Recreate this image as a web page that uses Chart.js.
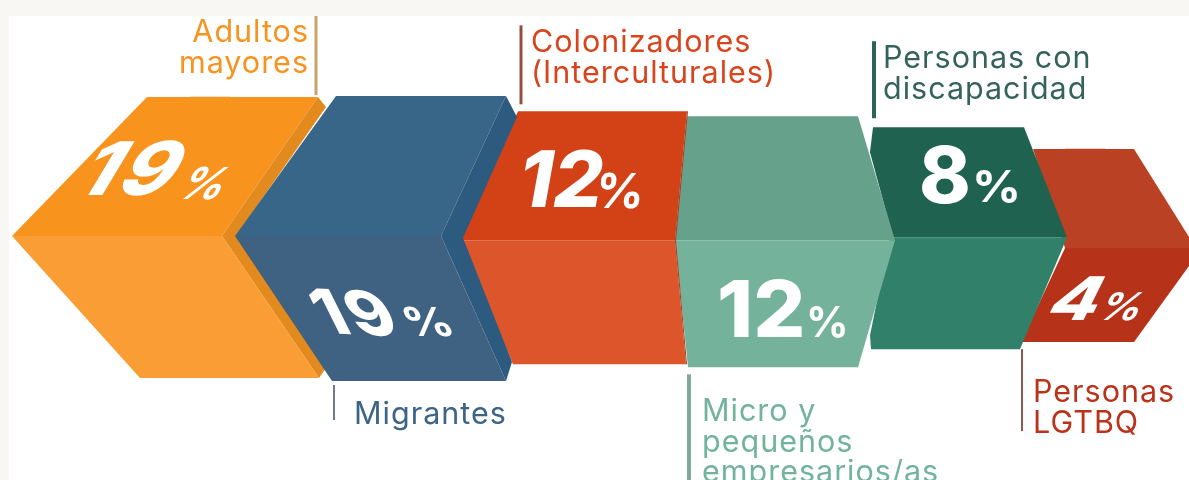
<!DOCTYPE html>
<html lang="es"><head><meta charset="utf-8">
<script src="https://cdn.jsdelivr.net/npm/chart.js@4"></script>
<style>
html,body{margin:0;padding:0;background:#f9f7f3;overflow:hidden;width:1189px;height:480px}
#panel{position:absolute;left:9px;top:16px;width:1180px;height:464px;background:#fff}
#c{position:absolute;left:0;top:0;filter:blur(.5px)}
</style></head><body><div id="panel"></div><canvas id="c" width="1189" height="480"></canvas>
<script>
const categories = [["Adultos","mayores"],["Migrantes"],["Colonizadores","(Interculturales)"],["Micro y","pequeños","empresarios/as"],["Personas con","discapacidad"],["Personas","LGTBQ"]];
const values = [19,19,12,12,8,4];
const textColors = ["#f7931e","#3b6487","#d9441c","#72b39b","#35635c","#bb321a"];
const topColors = ["#f8931d","#386689","#d34217","#66a18b","#1f6250","#bb4125"];

// Block drawing, offsets from each bar's top centre
const drawOrder = [5,4,3,2,0,1];
const originShift = [-111,-88,-65,-42,-19,4];
const shapes = [
 {faces:[
  ["#f8931d",[[-87,139],[48,0],[219,0],[123,139]]],
  ["#e28a1d",[[219,0],[227,10],[137,139],[227,271],[220,281],[123,139]]],
  ["#f99d34",[[-87,139],[123,139],[220,281],[41,281]]]]},
 {faces:[
  ["#386689",[[-62,139],[39,-1],[209,-1],[144,139]]],
  ["#2d5b80",[[209,-1],[220,20],[166,141],[215,265],[209,284],[144,139]]],
  ["#3f6283",[[-62,139],[144,139],[209,284],[35,284]]]]},
 {faces:[
  ["#d34217",[[23,-10],[192,-10],[180,119],[-35,119]]],
  ["#dc552b",[[-35,119],[180,119],[191,243],[18,243]]],
  ["#a5411f",[[192,-10],[193,-10],[181,119],[192,243],[191,243],[180,119]]]]},
 {faces:[
  ["#66a18b",[[-6,-5],[165,-5],[202,119],[-18,119]]],
  ["#74b29b",[[-18,119],[202,119],[165,246],[-5,246]]]]},
 {faces:[
  ["#1f6250",[[-18,-8],[133,-8],[176,102],[2,102],[-21,17]]],
  ["#30806a",[[-1,102],[176,102],[129,214],[-20,214],[-21,200]]]]},
 {faces:[
  ["#bb4125",[[-56,0],[45,0],[107,99],[-24,99]]],
  ["#b6331a",[[-24,99],[113,99],[45,193],[-68,193]]]]}
];
const numberStyles = [
 {x:-28,y:98,size:74,w:1.1,ls:4,c:-.6,b:0,px:75,py:102,ps:44,pw:1,pc:-.6,pb:0},
 {x:28,y:236,size:62,w:1.1,ls:3,c:.5,b:.05,px:112,py:239,ps:40,pw:1.2,pc:.4,pb:0},
 {x:20,y:86,size:78,w:1,ls:0,c:-.18,b:0,px:99,py:87,ps:48,pw:1,pc:-.1,pb:0},
 {x:24,y:216,size:78,w:1.05,ls:0,c:0,b:0,px:113,py:216,ps:42,pw:1,pc:0,pb:0},
 {x:28,y:68,size:78,w:1,ls:0,c:0,b:0,px:81,py:67,ps:44,pw:1.1,pc:0,pb:0},
 {x:-46,y:171,size:60,w:1.2,ls:0,c:-.5,b:0,px:6,py:171,ps:38,pw:1.1,pc:-.5,pb:0}
];
const notes = [
 {x:210,y:-55,align:"right",rule:[217,-81,-2,3,"#c9a36a"]},
 {x:57,y:327,align:"left",rule:[37,288,323,2,"#6e7b86"]},
 {x:36,y:-69,align:"left",rule:[26,-96,-17,3,"#91503e"]},
 {x:9,y:300,align:"left",rule:[-4,253,359,4,"#7faa99"]},
 {x:-8,y:-67,align:"left",rule:[-17,-94,-17,4,"#2e6358"]},
 {x:-56,y:253,align:"left",rule:[-67,200,282,2,"#8c5a50"]}
];
const TEXT_FONT = '400 30.5px Inter, "Open Sans", sans-serif';
const NUM_FONT = 'Inter, "Open Sans", sans-serif';

const blocks = {
 id:"blocks",
 afterDatasetsDraw(chart){
  const ctx = chart.ctx, bars = chart.getDatasetMeta(0).data;
  ctx.save();
  drawOrder.forEach(i=>{
    const ax = bars[i].x+originShift[i], ay = bars[i].y;
    shapes[i].faces.forEach(([col,pts])=>{
      ctx.beginPath();
      pts.forEach(([x,y],k)=>k?ctx.lineTo(ax+x,ay+y):ctx.moveTo(ax+x,ay+y));
      ctx.closePath(); ctx.fillStyle=col; ctx.fill();
    });
  });
  ctx.fillStyle="#fff"; ctx.textBaseline="alphabetic"; ctx.textAlign="left";
  values.forEach((v,i)=>{
    const ax = bars[i].x+originShift[i], ay = bars[i].y, s=numberStyles[i];
    ctx.save(); ctx.transform(s.w,s.b,s.c,1,ax+s.x,ay+s.y);
    ctx.font=`800 ${s.size}px ${NUM_FONT}`; ctx.letterSpacing=s.ls+"px"; ctx.fillText(String(v),0,0); ctx.restore();
    ctx.save(); ctx.transform(s.pw,s.pb,s.pc,1,ax+s.px,ay+s.py);
    ctx.font=`700 ${s.ps}px ${NUM_FONT}`; ctx.fillText("%",0,0); ctx.restore();
  });
  categories.forEach((lines,i)=>{
    const ax = bars[i].x+originShift[i], ay = bars[i].y, n=notes[i], r=n.rule;
    ctx.fillStyle=r[4]; ctx.fillRect(ax+r[0]-r[3]/2,ay+r[1],r[3],r[2]-r[1]);
    ctx.fillStyle=textColors[i]; ctx.font=TEXT_FONT; ctx.textAlign=n.align;
    ctx.letterSpacing="1px";
    lines.forEach((t,k)=>ctx.fillText(t,ax+n.x,ay+n.y+k*30.5));
    ctx.letterSpacing="0px";
  });
  ctx.restore();
 }
};

new Chart(document.getElementById("c"),{
 type:"bar",
 data:{labels:categories,datasets:[{data:values,backgroundColor:topColors,barThickness:40}]},
 options:{responsive:false,animation:false,
  layout:{padding:{left:122.5,right:16.5,top:0,bottom:0}},
  plugins:{legend:{display:false},tooltip:{enabled:false}},
  scales:{x:{display:false},y:{display:false,min:-91.36,max:46.97}}},
 plugins:[blocks]
});
</script></body></html>
